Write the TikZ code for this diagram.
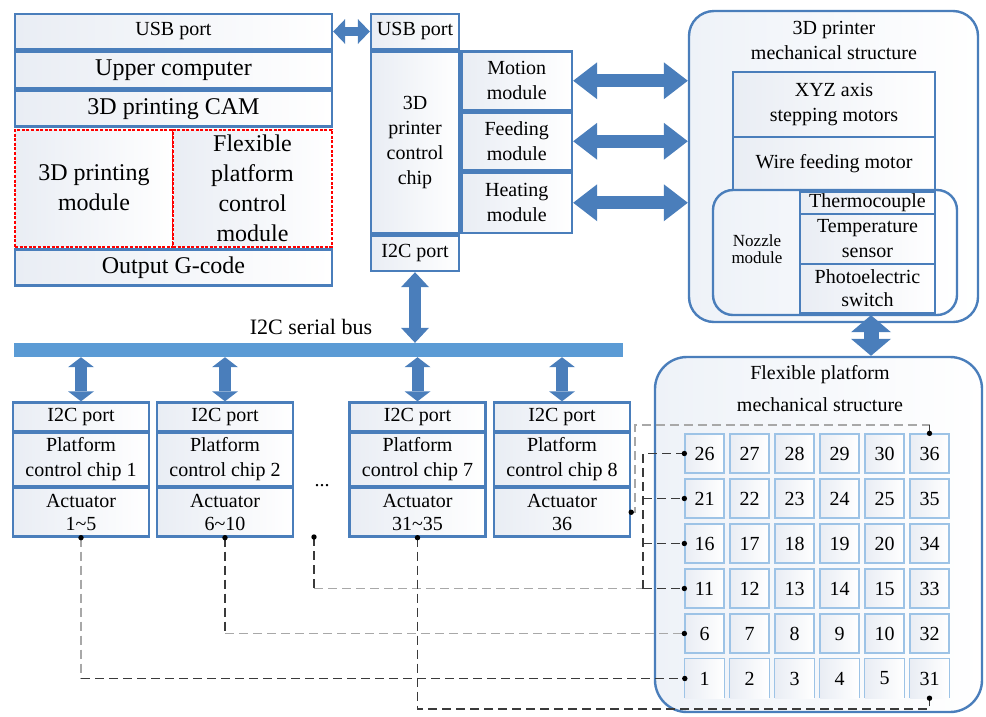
\documentclass[tikz,border=0pt]{standalone}
\usepackage{fontspec}
\setmainfont{Liberation Serif}
\usetikzlibrary{arrows.meta,calc}

\definecolor{frame}{HTML}{4A7EBB}
\definecolor{busblue}{HTML}{5B9BD5}
\definecolor{cellblue}{HTML}{9DC3E6}
\definecolor{shadeL}{HTML}{E9EDF4}
\definecolor{shadeB}{HTML}{EEF2F8}
\definecolor{dkline}{HTML}{3A3A3A}
\definecolor{ltline}{HTML}{A8A8A8}

\tikzset{
  f17/.style={font=\fontsize{17}{17}\selectfont},
  f20/.style={font=\fontsize{20}{25}\selectfont},
  f22/.style={font=\fontsize{22}{26}\selectfont},
  f24/.style={font=\fontsize{24}{30}\selectfont},
  box/.style={draw=frame, line width=2.4pt, left color=shadeL, right color=white,
    inner sep=0pt, align=center, text=black},
  redbox/.style={draw=red, dash pattern=on 3pt off 1.6pt, line width=2pt,
    left color=shadeL, right color=white, inner sep=0pt, align=center},
  bigframe/.style={draw=frame, line width=2.4pt, left color=shadeB, right color=white,
    inner sep=0pt},
  cellbox/.style={draw=cellblue, line width=1.3pt, left color=shadeL, right color=white,
    minimum width=39, minimum height=39, inner sep=0pt, f20},
  opencell/.style={left color=shadeL, right color=white,
    minimum width=39, minimum height=39, inner sep=0pt, f20},
  dbl/.style n args={3}{draw=frame, line width=#1,
    arrows={Triangle[width=#2,length=#3,line width=0pt]-Triangle[width=#2,length=#3,line width=0pt]}},
  bigarrow/.style={dbl={13pt}{37pt}{24pt}},
  usbarrow/.style={dbl={9pt}{25pt}{12pt}},
  busarrow/.style={dbl={12pt}{26pt}{10pt}},
  chiparrow/.style={dbl={12pt}{28pt}{15pt}},
  mfarrow/.style={dbl={15pt}{40pt}{17pt}},
  dkdash/.style={draw=dkline, line width=1.6pt, dash pattern=on 9pt off 5pt},
  ltdash/.style={draw=ltline, line width=1.6pt, dash pattern=on 9pt off 5pt},
}

% one platform control chip: port, chip and actuator rows
\newcommand\platformchip[4]{%
  \node[box,f20,minimum width=136,minimum height=28.5] (#1p) at (#2,416.75) {I2C port};
  \node[box,f20,minimum width=136,minimum height=53] (#1c) at (#2,459.5) {Platform\\control chip #3};
  \node[box,f20,minimum width=136,minimum height=48.5] (#1a) at (#2,512.25) {Actuator\\[-2pt]#4};
}

\begin{document}
\begin{tikzpicture}[x=1pt,y=-1pt]
\useasboundingbox (0,0) rectangle (986,716);

% ---------- upper computer stack ----------
\node[box,f20,minimum width=317,minimum height=35] (usbL) at (173.5,31.5) {USB port};
\node[box,f24,minimum width=317,minimum height=37] (upper) at (173.5,70) {Upper computer};
\node[box,f24,minimum width=317,minimum height=35.5] (cam) at (173.5,108.75) {3D printing CAM};
\node[redbox,f24,minimum width=158,minimum height=117] (pmod) at (94,188) {3D printing\\module};
\node[redbox,f24,minimum width=159,minimum height=117] (fmod) at (252.5,188) {Flexible\\platform\\control\\module};
\node[box,f24,minimum width=317,minimum height=36] (gcode) at (173.5,267.5) {Output G-code};

% ---------- 3D printer control chip ----------
\node[box,f20,minimum width=88,minimum height=35] (usbC) at (415,31.5) {USB port};
\node[box,f20,minimum width=88,minimum height=181.5] (chip) at (415,142.25) {3D\\printer\\control\\chip};
\node[box,f20,minimum width=88,minimum height=35.5] (i2cC) at (415,253.25) {I2C port};
\node[box,f20,minimum width=110.5,minimum height=58.5] (motion) at (516.75,80.75) {Motion\\module};
\node[box,f20,minimum width=110.5,minimum height=57.5] (feed) at (516.75,141.25) {Feeding\\module};
\node[box,f20,minimum width=110.5,minimum height=60.5] (heat) at (516.75,202.75) {Heating\\module};

% ---------- 3D printer mechanical structure ----------
\node[bigframe,rounded corners=25pt,minimum width=289,minimum height=311] (mech) at (833.5,166.5) {};
\node[f20,align=center] (mechT) at (834,40) {3D printer\\mechanical structure};
\node[box,f20,minimum width=202,minimum height=65] (xyz) at (834,104.5) {XYZ axis\\stepping motors};
\node[box,f20,minimum width=202,minimum height=53] (wire) at (834,163.5) {Wire feeding motor};
\node[bigframe,rounded corners=20pt,minimum width=244,minimum height=125] (noz) at (835,252.5) {};
\coordinate (ndiv) at (800,0);
\draw[draw=frame,line width=2.4pt] (noz.north -| ndiv) -- (noz.south -| ndiv);
\node[f17,align=center] (nozT) at (757,249) {Nozzle\\module};
\node[box,f20,minimum width=135,minimum height=22] (thermo) at (867.5,203) {Thermocouple};
\node[box,f20,minimum width=135,minimum height=50] (temp) at (867.5,239) {Temperature\\sensor};
\node[box,f20,minimum width=135,minimum height=49] (photo) at (867.5,288.5) {Photoelectric\\[-2pt]switch};

% ---------- links of the printer side ----------
\draw[usbarrow] (usbL.east) -- (usbC.west);
\draw[bigarrow] (motion.east) -- (motion.east -| mech.west);
\draw[bigarrow] (feed.east) -- (feed.east -| mech.west);
\draw[bigarrow] (heat.east) -- (heat.east -| mech.west);

% ---------- I2C serial bus ----------
\node[fill=busblue,minimum width=609,minimum height=14,inner sep=0pt] (bus) at (318.5,350) {};
\node[f22] (busT) at (311,327) {I2C serial bus};
\draw[chiparrow] (i2cC.south) -- (i2cC.south |- bus.north);

% ---------- platform control chips ----------
\platformchip{b1}{81}{1}{1\textasciitilde5}
\platformchip{b2}{225}{2}{6\textasciitilde10}
\platformchip{b7}{417.5}{7}{31\textasciitilde35}
\platformchip{b8}{562}{8}{36}
\node[f20] (ellip) at (322,486) {...};
\foreach \b in {b1,b2,b7,b8}
  \draw[busarrow] (bus.south -| \b p.north) -- (\b p.north);

% ---------- flexible platform mechanical structure ----------
\node[bigframe,rounded corners=32pt,minimum width=327,minimum height=355] (flex) at (818.5,534.5) {};
\node[f20,align=center] (flexT) at (820,389) {Flexible platform\\[7pt]mechanical structure};
\coordinate (mf) at (871,0);
\draw[mfarrow] ([yshift=8pt]mech.south -| mf) -- (flex.north -| mf);

% actuator grid
\foreach \row [count=\j from 0] in {{26,27,28,29,30,36},{21,22,23,24,25,35},{16,17,18,19,20,34},{11,12,13,14,15,33},{6,7,8,9,10,32}}
  \foreach \n [count=\i from 0] in \row
    \node[cellbox] (g\n) at (704.5+45*\i,453.5+45*\j) {\n};
\foreach \n [count=\i from 0] in {1,2,3,4,5,31} {
  \node[opencell] (g\n) at (704.5+45*\i,678.5) {\n};
  \draw[draw=cellblue,line width=1.3pt] (g\n.south west) -- (g\n.north west) -- (g\n.north east) -- (g\n.south east);
}

% ---------- wiring from actuators to platform cells ----------
\coordinate (d1) at (b1a.south);
\coordinate (d2) at (b2a.south);
\coordinate (d3) at (314,537);
\coordinate (d7) at (b7a.south);
\coordinate (d8) at (b8a.east);
\coordinate (jx) at (643,0);
\coordinate (xr) at (635,0);
\coordinate (yt) at (0,425);
\coordinate (yb) at (0,709);

\draw[ltdash] (d1) -- (d1 |- g1.west);
\draw[dkdash] (d1 |- g1.west) -- (g1.west);
\draw[dkdash] (d2) -- (d2 |- g6.west);
\draw[ltdash] (d2 |- g6.west) -- (g6.west);
\draw[dkdash] (d3) -- (d3 |- g11.west);
\draw[ltdash] (d3 |- g11.west) -- (jx |- g11.west);
\draw[dkdash] (jx |- g11.west) -- (g11.west);
\draw[dkdash] (jx |- g11.west) -- (jx |- g26.west) -- (g26.west);
\draw[dkdash] (jx |- g21.west) -- (g21.west);
\draw[dkdash] (jx |- g16.west) -- (g16.west);
\draw[dkdash] (d7) -- (d7 |- yb) -- (g31.south |- yb) -- (g31.south);
\draw[ltdash] (d8) -- (d8 -| xr) -- (xr |- yt) -- (g36.north |- yt);
\draw[dkdash] (g36.north |- yt) -- (g36.north);

\foreach \p in {d1,d2,d3,d7,d8,g1.west,g6.west,g11.west,g16.west,g21.west,g26.west,g36.north,g31.south}
  \fill[black] (\p) circle (2.7);
\end{tikzpicture}
\end{document}
